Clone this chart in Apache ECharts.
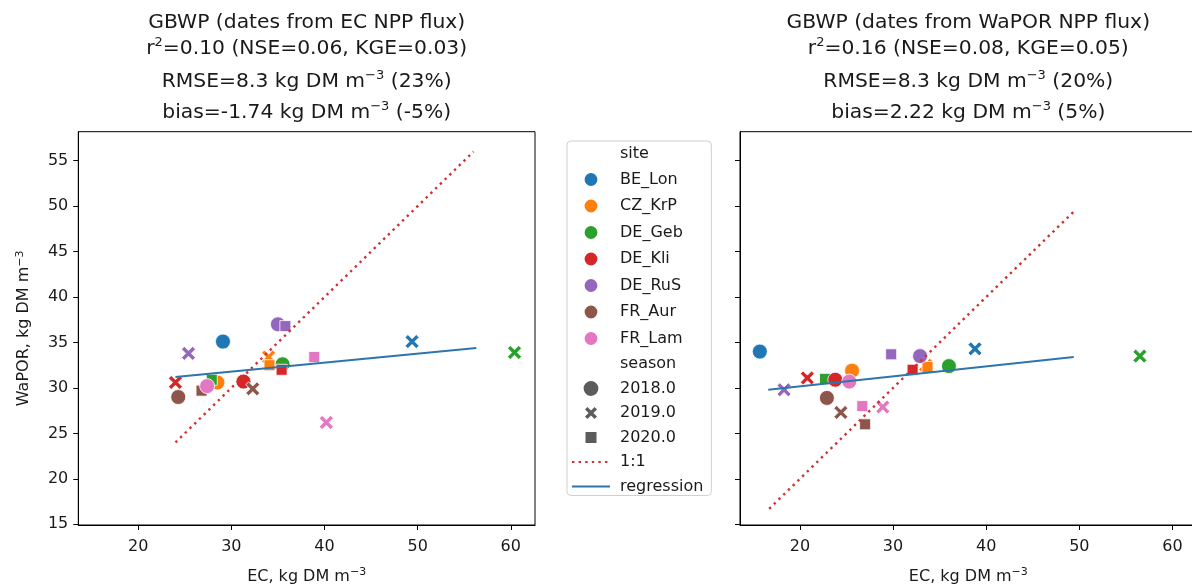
<!DOCTYPE html>
<html>
<head>
<meta charset="utf-8">
<title>GBWP scatter</title>
<script src="https://cdn.jsdelivr.net/npm/echarts@6/dist/echarts.min.js"></script>
<style>
    html, body { margin: 0; padding: 0; background: #fff; }
    #gbwp_scatter { width: 1192px; height: 584px; }
</style>
</head>
<body>
<div id="gbwp_scatter"></div>
<script>

// Chart data
// ------------------------------

var sites = ['BE_Lon', 'CZ_KrP', 'DE_Geb', 'DE_Kli', 'DE_RuS', 'FR_Aur', 'FR_Lam'];
var seasons = ['2018.0', '2019.0', '2020.0'];

var xTicks = [20, 30, 40, 50, 60];
var yTicks = [15, 20, 25, 30, 35, 40, 45, 50, 55];

// Left panel (dates from EC NPP flux)
var ecSite   = ['BE_Lon', 'BE_Lon', 'CZ_KrP', 'CZ_KrP', 'CZ_KrP', 'DE_Geb', 'DE_Geb', 'DE_Geb', 'DE_Kli', 'DE_Kli', 'DE_Kli', 'DE_RuS', 'DE_RuS', 'DE_RuS', 'FR_Aur', 'FR_Aur', 'FR_Aur', 'FR_Lam', 'FR_Lam', 'FR_Lam'];
var ecSeason = ['2018.0', '2019.0', '2018.0', '2019.0', '2020.0', '2018.0', '2019.0', '2020.0', '2018.0', '2019.0', '2020.0', '2018.0', '2019.0', '2020.0', '2018.0', '2019.0', '2020.0', '2018.0', '2019.0', '2020.0'];
var ecX      = [29.1, 49.4, 28.5, 34.0, 34.1, 35.5, 60.4, 27.9, 31.3, 24.0, 35.4, 35.0, 25.4, 35.8, 24.3, 32.3, 26.8, 27.4, 40.2, 38.9];
var ecY      = [35.1, 35.1, 30.6, 33.4, 32.5, 32.6, 33.9, 30.9, 30.7, 30.6, 32.0, 37.0, 33.8, 36.8, 29.0, 29.9, 29.7, 30.2, 26.2, 33.4];
var ecOneToOne   = [[24.0, 24.0], [56.0, 56.0]];
var ecRegression = [[24.0, 31.2], [56.3, 34.4]];

// Right panel (dates from WaPOR NPP flux)
var waSite   = ecSite.slice();
var waSeason = ecSeason.slice();
var waX      = [15.7, 38.8, 25.6, 33.5, 33.7, 36.0, 56.5, 22.7, 23.8, 20.8, 32.1, 32.9, 18.3, 29.8, 22.9, 24.4, 27.0, 25.3, 28.9, 26.7];
var waY      = [34.0, 34.3, 31.9, 32.5, 32.3, 32.4, 33.5, 31.0, 30.9, 31.1, 32.0, 33.5, 29.8, 33.7, 28.9, 27.3, 26.0, 30.7, 27.9, 28.0];
var waOneToOne   = [[16.7, 16.7], [49.4, 49.4]];
var waRegression = [[16.6, 29.8], [49.4, 33.4]];

// Titles and axis names, ^{..} marks a superscript
var ecTitle = ['GBWP (dates from EC NPP flux)', 'r^{2}=0.10 (NSE=0.06, KGE=0.03)', 'RMSE=8.3 kg DM m^{\u22123} (23%)', 'bias=-1.74 kg DM m^{\u22123} (-5%)'];
var waTitle = ['GBWP (dates from WaPOR NPP flux)', 'r^{2}=0.16 (NSE=0.08, KGE=0.05)', 'RMSE=8.3 kg DM m^{\u22123} (20%)', 'bias=2.22 kg DM m^{\u22123} (5%)'];
var xName = 'EC, kg DM m^{\u22123}';
var yName = 'WaPOR, kg DM m^{\u22123}';


// Setup module
// ------------------------------

var EchartsGbwpScatter = function() {

    var fontFamily = '"DejaVu Sans", sans-serif';
    var textColor = '#1a1a1a';
    var siteColors = ['#1f77b4', '#ff7f0e', '#2ca02c', '#d62728', '#9467bd', '#8c564b', '#e377c2'];
    var xSymbol = 'path://M2,0 L5,3 L8,0 L10,2 L7,5 L10,8 L8,10 L5,7 L2,10 L0,8 L3,5 L0,2 Z';
    // Padded shapes for the legend, so they come out a bit smaller than the row
    var legendCircle = 'path://M0,0 L0,0.01 L0.01,0 Z M8,0.6 A7.4,7.4 0 1 1 7.99,0.6 Z M16,16 L16,15.99 L15.99,16 Z';
    var legendX = 'path://M0,0 L0,0.01 L0.01,0 Z M2,4.4 L4.4,2 L8,5.6 L11.6,2 L14,4.4 L10.4,8 L14,11.6 L11.6,14 L8,10.4 L4.4,14 L2,11.6 L5.6,8 Z M16,16 L16,15.99 L15.99,16 Z';
    var legendSquare = 'path://M0,0 L0,0.01 L0.01,0 Z M2.5,2.5 L13.5,2.5 L13.5,13.5 L2.5,13.5 Z M16,16 L16,15.99 L15.99,16 Z';
    var seasonSymbols = { '2018.0': 'circle', '2019.0': xSymbol, '2020.0': 'rect' };
    var legendSymbols = { '2018.0': legendCircle, '2019.0': legendX, '2020.0': legendSquare };
    var seasonSizes = { '2018.0': 15, '2019.0': 14, '2020.0': 11 };

    // Turn 'm^{-3}' into rich text tokens
    var toRich = function(s) {
        return s.split(/\^\{([^}]*)\}/).map(function(part, i) {
            if (!part) return '';
            return i % 2 ? '{s|' + part + '}' : '{t|' + part + '}';
        }).join('');
    };

    var richStyle = function(size, supSize, lh) {
        return {
            t: { fontSize: size, fontFamily: fontFamily, fontWeight: 'normal', color: textColor, lineHeight: lh },
            s: { fontSize: supSize, fontFamily: fontFamily, fontWeight: 'normal', color: textColor, lineHeight: supSize + 1, verticalAlign: 'top' }
        };
    };

    var _scatterExample = function() {
        if (typeof echarts == 'undefined') {
            console.warn('Warning - echarts.min.js is not loaded.');
            return;
        }

        var element = document.getElementById('gbwp_scatter');
        if (!element) return;

        var chart = echarts.init(element, null, { renderer: 'canvas' });

        // Panel geometry
        var panels = [
            { left: 78.3, center: 306.7, titles: ecTitle, site: ecSite, season: ecSeason, x: ecX, y: ecY, one: ecOneToOne, reg: ecRegression },
            { left: 740, center: 968.3, titles: waTitle, site: waSite, season: waSeason, x: waX, y: waY, one: waOneToOne, reg: waRegression }
        ];
        var titleRows = [23, 49, 82, 113];

        var titles = [], grids = [], xAxes = [], yAxes = [], series = [];

        panels.forEach(function(p, gi) {

            // Title lines
            p.titles.forEach(function(line, li) {
                titles.push({
                    text: toRich(line),
                    left: p.center,
                    top: titleRows[li],
                    textAlign: 'center',
                    textVerticalAlign: 'middle',
                    padding: 0,
                    textStyle: { fontWeight: 'normal', rich: richStyle(20.3, 13, 26) }
                });
            });

            // Grid with box, kept at its size even past the canvas edge
            grids.push({
                left: p.left,
                top: 131.7,
                width: 456.7,
                height: 393.3,
                outerBoundsMode: 'none',
                containLabel: false,
                show: true,
                borderColor: '#000',
                borderWidth: 1,
                backgroundColor: '#fff'
            });

            // Horizontal axis
            xAxes.push({
                type: 'value',
                gridIndex: gi,
                min: 13.57,
                max: 62.6,
                name: toRich(xName),
                nameLocation: 'middle',
                nameGap: 42,
                nameTextStyle: { rich: richStyle(16, 11, 20) },
                splitLine: { show: false },
                axisLine: { show: true, onZero: false, lineStyle: { color: '#000', width: 1 } },
                axisTick: { show: true, length: 5, customValues: xTicks, lineStyle: { color: '#000' } },
                axisLabel: { customValues: xTicks, margin: 13.5, fontSize: 16, fontFamily: fontFamily, color: textColor }
            });

            // Vertical axis
            yAxes.push({
                type: 'value',
                gridIndex: gi,
                min: 14.92,
                max: 58.19,
                name: gi === 0 ? toRich(yName) : '',
                nameLocation: 'middle',
                nameGap: 44,
                nameTextStyle: { rich: richStyle(16, 11, 20) },
                splitLine: { show: false },
                axisLine: { show: true, onZero: false, lineStyle: { color: '#000', width: 1 } },
                axisTick: { show: true, length: 5, customValues: yTicks, lineStyle: { color: '#000' } },
                axisLabel: { show: gi === 0, customValues: yTicks, margin: 10, fontSize: 16, fontFamily: fontFamily, color: textColor }
            });

            // One scatter series per site
            sites.forEach(function(site, si) {
                var data = [];
                p.site.forEach(function(s, k) {
                    if (s !== site) return;
                    data.push({
                        value: [p.x[k], p.y[k]],
                        symbol: seasonSymbols[p.season[k]],
                        symbolSize: seasonSizes[p.season[k]]
                    });
                });
                series.push({
                    name: site,
                    type: 'scatter',
                    xAxisIndex: gi,
                    yAxisIndex: gi,
                    data: data,
                    itemStyle: { color: siteColors[si], borderColor: '#fff', borderWidth: 0.8, opacity: 1 },
                    emphasis: { disabled: true },
                    z: 2
                });
            });

            // 1:1 and regression lines
            series.push({
                name: '1:1',
                type: 'line',
                xAxisIndex: gi,
                yAxisIndex: gi,
                data: p.one,
                symbol: 'none',
                lineStyle: { color: '#d03030', width: 2.4, type: [2.4, 4.2], cap: 'butt' },
                itemStyle: { color: '#d03030' },
                emphasis: { disabled: true },
                z: 4
            });
            series.push({
                name: 'regression',
                type: 'line',
                xAxisIndex: gi,
                yAxisIndex: gi,
                data: p.reg,
                symbol: 'none',
                lineStyle: { color: '#2f75ad', width: 2 },
                itemStyle: { color: '#2f75ad' },
                emphasis: { disabled: true },
                z: 4
            });
        });

        // Empty series for the legend headings and season markers
        ['site', 'season'].forEach(function(name) {
            series.push({ name: name, type: 'scatter', data: [], itemStyle: { color: 'transparent' } });
        });
        seasons.forEach(function(name) {
            series.push({ name: name, type: 'scatter', data: [], symbol: legendSymbols[name], itemStyle: { color: '#333' } });
        });

        var hiddenDot = { color: 'rgba(0,0,0,0)', borderWidth: 0, borderColor: 'rgba(0,0,0,0)' };
        var legendData = [{ name: 'site', icon: 'none' }];
        sites.forEach(function(s) { legendData.push({ name: s, icon: legendCircle }); });
        legendData.push({ name: 'season', icon: 'none' });
        seasons.forEach(function(s) { legendData.push({ name: s, icon: legendSymbols[s] }); });
        legendData.push({ name: '1:1', itemStyle: hiddenDot });
        legendData.push({ name: 'regression', itemStyle: hiddenDot });

        chart.setOption({
            animation: false,
            textStyle: { fontFamily: fontFamily },
            title: titles,
            grid: grids,
            xAxis: xAxes,
            yAxis: yAxes,

            // Legend box between panels
            legend: {
                orient: 'vertical',
                left: 567,
                top: 141,
                padding: [5, 8, 1, 4],
                itemWidth: 38,
                itemHeight: 16,
                itemGap: 8.5,
                selectedMode: false,
                borderColor: '#d0d0d0',
                borderWidth: 1,
                borderRadius: 4,
                backgroundColor: '#fff',
                textStyle: { fontSize: 16, fontFamily: fontFamily, color: textColor, padding: [0, 0, 0, 5] },
                data: legendData
            },
            series: series
        });

        // Resize
        window.addEventListener('resize', function() {
            chart.resize();
        });
    };

    return {
        init: function() {
            _scatterExample();
        }
    }
}();


// Initialize module
// ------------------------------

document.addEventListener('DOMContentLoaded', function() {
    EchartsGbwpScatter.init();
});
</script>
</body>
</html>
